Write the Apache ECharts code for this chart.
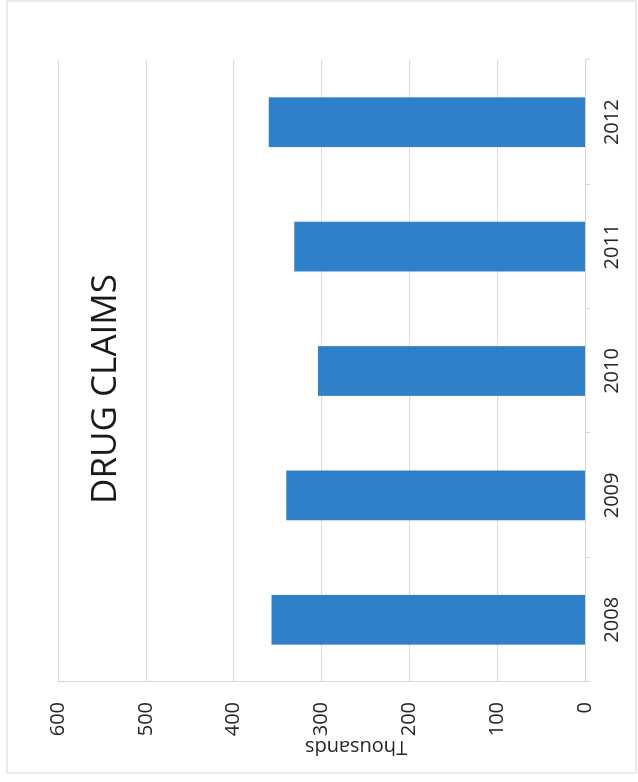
<!DOCTYPE html>
<html>
<head>
<meta charset="utf-8">
<script src="https://cdn.jsdelivr.net/npm/echarts@6/dist/echarts.min.js"></script>
<style>
html,body{margin:0;padding:0;background:#fff;width:638px;height:782px;overflow:hidden;}
#chart{position:absolute;left:0;top:0;width:782px;height:638px;transform-origin:0 0;transform:translate(0,782px) rotate(-90deg);}
</style>
</head>
<body>
<div id="chart"></div>
<script>
const categories = ['2008', '2009', '2010', '2011', '2012'];
const claims = [357, 340, 304, 331, 360];
const valueTicks = { min: 0, max: 600, interval: 100 };
const titleText = 'DRUG CLAIMS';
const unitText = 'Thousands';

const chart = echarts.init(document.getElementById('chart'), null, { renderer: 'canvas' });
const font = '"Open Sans", "DejaVu Sans", sans-serif';
chart.setOption({
  animation: false,
  backgroundColor: '#ffffff',
  grid: { left: 100, right: 60, top: 58, bottom: 53, containLabel: false },
  xAxis: {
    type: 'category',
    data: categories,
    axisLine: { show: true, lineStyle: { color: '#d6d6d6', width: 1 } },
    axisTick: { show: true, length: 5, lineStyle: { color: '#d6d6d6' } },
    axisLabel: { fontFamily: font, fontSize: 20, color: '#262626', margin: 17 }
  },
  yAxis: {
    type: 'value',
    min: valueTicks.min,
    max: valueTicks.max,
    interval: valueTicks.interval,
    axisLine: { show: true, lineStyle: { color: '#d6d6d6', width: 1 } },
    axisTick: { show: false },
    splitLine: { show: true, lineStyle: { color: '#dcdcdc', width: 1 } },
    axisLabel: { fontFamily: font, fontSize: 20, color: '#262626', margin: 20 }
  },
  series: [{
    type: 'bar',
    data: claims,
    barCategoryGap: '60%',
    itemStyle: { color: '#2e80c8' }
  }],
  graphic: [
    {
      type: 'rect', silent: true,
      shape: { x: 9, y: 7, width: 772, height: 629 },
      style: { fill: 'none', stroke: '#d4d4d4', lineWidth: 1 }
    },
    {
      type: 'text', x: 393, y: 106,
      style: { text: titleText, fontFamily: font, fontSize: 35, fill: '#1a1a1a', align: 'center', verticalAlign: 'middle' }
    },
    {
      type: 'text', x: 35, y: 356, rotation: Math.PI / 2,
      style: { text: unitText, fontFamily: font, fontSize: 20, fill: '#262626', align: 'center', verticalAlign: 'middle' }
    }
  ]
});
</script>
</body>
</html>
